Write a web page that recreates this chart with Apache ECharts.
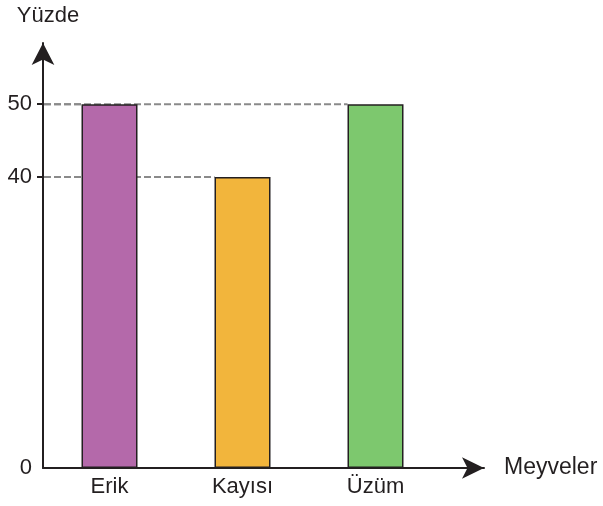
<!DOCTYPE html>
<html>
<head>
<meta charset="utf-8">
<script src="https://cdn.jsdelivr.net/npm/echarts@6/dist/echarts.min.js"></script>
<style>
html,body{margin:0;padding:0;background:#fff;}
#chart{width:603px;height:506px;}
</style>
</head>
<body>
<div id="chart"></div>
<script>
const categories = ['Erik', 'Kayısı', 'Üzüm'];
const values = [50, 40, 50];
const colors = ['#b469aa', '#f2b53c', '#7dc86e'];
const yTickLabels = [0, 40, 50];
const yTicks = [40, 50];

const FONT = '"Liberation Sans", Arial, sans-serif';
const INK = '#231f20';
const BAR_WIDTH = 56;

const chart = echarts.init(document.getElementById('chart'), null, {renderer: 'canvas'});

const option = {
  animation: false,
  backgroundColor: '#ffffff',
  textStyle: {fontFamily: FONT},
  grid: [
    {left: 43, right: 161, top: 43, bottom: 38},
    {left: 43, right: 119, top: 43, bottom: 38}
  ],
  xAxis: [
    {
      type: 'category',
      gridIndex: 0,
      data: categories,
      boundaryGap: true,
      axisLine: {show: false},
      axisTick: {show: false},
      axisLabel: {color: INK, fontSize: 22, fontFamily: FONT, margin: 8},
      splitLine: {show: false}
    },
    {
      type: 'value',
      gridIndex: 1,
      min: 0, max: 1,
      position: 'bottom',
      axisLine: {
        show: true, onZero: false,
        symbol: ['none', 'arrow'], symbolSize: [16, 22],
        lineStyle: {color: INK, width: 2}
      },
      axisTick: {show: false},
      axisLabel: {show: false},
      splitLine: {show: false},
      name: 'Meyveler',
      nameLocation: 'end',
      nameGap: 20,
      nameTextStyle: {color: INK, fontSize: 23, fontFamily: FONT}
    }
  ],
  yAxis: [
    {
      type: 'value',
      gridIndex: 0,
      min: 0, max: 58.4,
      axisLine: {
        show: true, onZero: false,
        symbol: ['none', 'arrow'], symbolSize: [17, 22],
        lineStyle: {color: INK, width: 2}
      },
      axisTick: {show: true, length: 6, customValues: yTicks, lineStyle: {color: INK, width: 2}},
      axisLabel: {color: INK, fontSize: 22, fontFamily: FONT, margin: 11, customValues: yTickLabels},
      splitLine: {show: false},
      name: 'Yüzde',
      nameLocation: 'end',
      nameGap: 16,
      nameTextStyle: {color: INK, fontSize: 22, fontFamily: FONT, padding: [0, 0, 0, 10]}
    },
    {
      type: 'value',
      gridIndex: 1,
      min: 0, max: 1,
      show: false
    }
  ],
  series: [
    {
      type: 'custom',
      xAxisIndex: 0, yAxisIndex: 0,
      z: 1,
      silent: true,
      data: categories.map((c, i) => [c, values[i]]),
      encode: {x: 0, y: 1},
      renderItem: function (params, api) {
        const p = api.coord([api.value(0), api.value(1)]);
        return {
          type: 'line',
          shape: {x1: params.coordSys.x + 1, y1: p[1], x2: p[0] - BAR_WIDTH / 2, y2: p[1]},
          style: {stroke: '#8a8a8a', lineWidth: 2, lineDash: [7, 3]}
        };
      }
    },
    {
      type: 'bar',
      xAxisIndex: 0, yAxisIndex: 0,
      z: 3,
      barWidth: BAR_WIDTH,
      data: values.map((v, i) => ({
        value: v,
        itemStyle: {color: colors[i], borderColor: INK, borderWidth: 1.5}
      }))
    }
  ]
};
chart.setOption(option);
</script>
</body>
</html>
